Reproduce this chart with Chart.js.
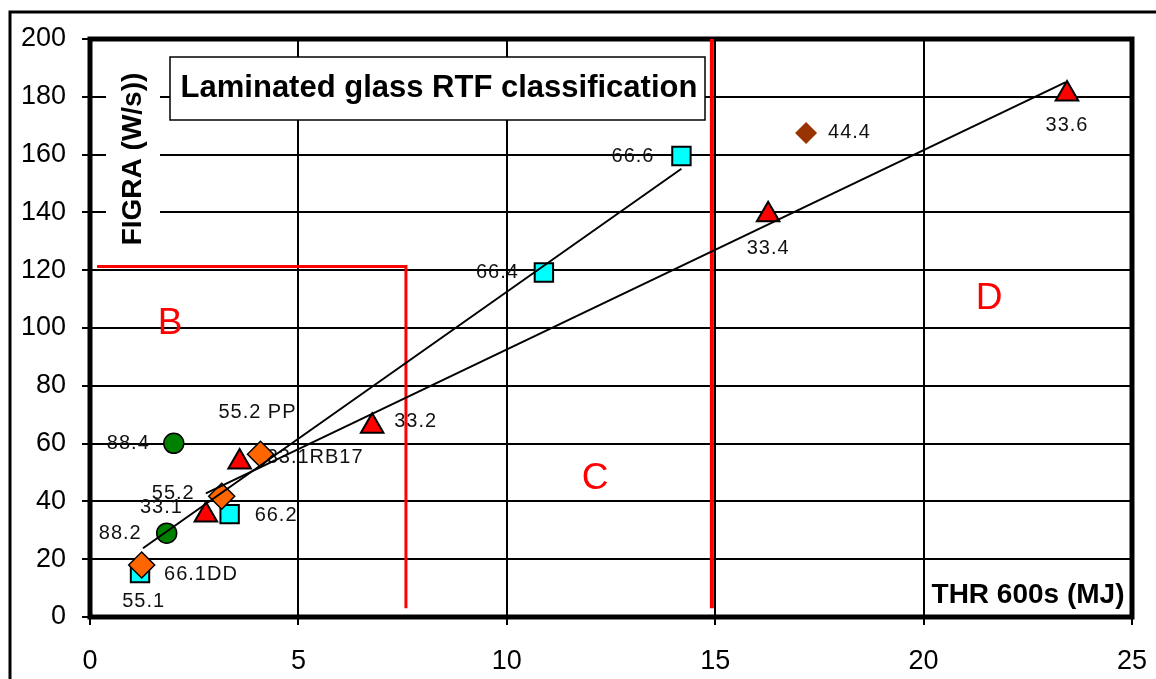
<!DOCTYPE html>
<html>
<head>
<meta charset="utf-8">
<script src="https://cdn.jsdelivr.net/npm/chart.js@4.4.0/dist/chart.umd.min.js"></script>
<style>
  html, body { margin: 0; padding: 0; background: #fff; }
  #wrap { width: 1156px; height: 679px; position: relative; }
</style>
</head>
<body>
<div id="wrap"><canvas id="chart" width="1156" height="679"></canvas></div>
<script>
// THR 600s (MJ) on x, FIGRA (W/s) on y, one array pair per glass family
const sqX = [14.19, 10.89, 3.35, 1.20];
const sqY = [159.5, 119.2, 35.6, 15.2];
const sqLabels = ['66.6', '66.4', '66.2', '66.1DD'];

const triX = [23.44, 16.27, 6.77, 3.59, 2.78];
const triY = [181, 139.2, 66, 53.6, 35.3];
const triLabels = ['33.6', '33.4', '33.2', '33.1RB17', '33.1'];

const diaX = [4.09, 3.16, 1.24];
const diaY = [56.3, 41.8, 18];
const diaLabels = ['55.2 PP', '55.2', '55.1'];

const circX = [2.01, 1.84];
const circY = [60.1, 29];
const circLabels = ['88.4', '88.2'];

const brX = [17.18];
const brY = [167.5];
const brLabels = ['44.4'];

// trend lines (end points)
const trendSqX = [1.27, 14.19];
const trendSqY = [23.8, 155.1];
const trendTriX = [2.78, 23.4];
const trendTriY = [42.8, 185];

// class limits
const limitBX = [0.17, 7.58, 7.58];
const limitBY = [121.3, 121.3, 3];
const limitCX = [14.92, 14.92];
const limitCY = [200, 3];

const classNames = ['B', 'C', 'D'];
const classX = [1.92, 12.12, 21.57];
const classY = [101.6, 47.7, 110.2];

const xTicks = [0, 5, 10, 15, 20, 25];
const yTicks = [0, 20, 40, 60, 80, 100, 120, 140, 160, 180, 200];

const pts = (xs, ys) => xs.map((x, i) => ({ x: x, y: ys[i] }));

// label placement: [align, dx, dy] in px relative to marker
const labelPos = {
  sq: [['right', -27, 0], ['right', -25, 0], ['left', 25, 1], ['left', 24, 1]],
  tri: [['center', 0, 32], ['center', 0, 34], ['left', 22, -5], ['left', 27, -5], ['right', -23, -7]],
  dia: [['center', -3, -42], ['right', -27, -3], ['center', 2, 37]],
  circ: [['right', -24, 0], ['right', -25, 0]],
  br: [['left', 22, 0]]
};

const FONT = 'Arial, "Liberation Sans", sans-serif';

const decorPlugin = {
  id: 'decor',
  beforeDatasetsDraw(chart) {
    const ctx = chart.ctx;
    const a = chart.chartArea;
    const xs = chart.scales.x, ys = chart.scales.y;
    ctx.save();
    // outer frame
    ctx.strokeStyle = '#000';
    ctx.lineWidth = 3;
    ctx.beginPath();
    ctx.moveTo(10, 679);
    ctx.lineTo(10, 12);
    ctx.lineTo(1156, 12);
    ctx.stroke();

    // y title with white backing
    ctx.fillStyle = '#fff';
    ctx.fillRect(106, 46, 54, 212);
    ctx.save();
    ctx.translate(133, 159);
    ctx.rotate(-Math.PI / 2);
    ctx.fillStyle = '#000';
    ctx.font = 'bold 28px ' + FONT;
    ctx.textAlign = 'center';
    ctx.textBaseline = 'middle';
    ctx.fillText('FIGRA (W/s))', 0, 0);
    ctx.restore();

    // x title with white backing
    ctx.fillStyle = '#fff';
    ctx.fillRect(926, 577, a.right - 928, a.bottom - 579);
    ctx.fillStyle = '#000';
    ctx.font = 'bold 28px ' + FONT;
    ctx.textAlign = 'center';
    ctx.textBaseline = 'middle';
    ctx.fillText('THR 600s (MJ)', 1028, 595);

    // title box
    ctx.fillStyle = '#fff';
    ctx.fillRect(170, 57, 535, 63);
    ctx.lineWidth = 1.5;
    ctx.strokeRect(170, 57, 535, 63);
    ctx.fillStyle = '#000';
    ctx.font = 'bold 31px ' + FONT;
    ctx.fillText('Laminated glass RTF classification', 439, 88);

    // class letters
    ctx.fillStyle = '#ff0000';
    ctx.font = '37px ' + FONT;
    classNames.forEach((n, i) => {
      ctx.fillText(n, xs.getPixelForValue(classX[i]), ys.getPixelForValue(classY[i]));
    });

    // point labels
    ctx.fillStyle = '#111';
    ctx.font = '20px ' + FONT;
    ctx.letterSpacing = '1px';
    chart.data.datasets.forEach((ds, di) => {
      if (!ds.pointLabels) return;
      const meta = chart.getDatasetMeta(di);
      ds.pointLabels.forEach((t, i) => {
        const el = meta.data[i];
        const p = labelPos[ds.labelKey][i];
        ctx.textAlign = p[0];
        ctx.fillText(t, el.x + p[1], el.y + p[2]);
      });
    });
    ctx.letterSpacing = '0px';

    // plot border
    ctx.strokeStyle = '#000';
    ctx.lineWidth = 5;
    ctx.strokeRect(a.left, a.top, a.right - a.left, a.bottom - a.top);
    ctx.restore();
  }
};

const lineDs = (data, color, width) => ({
  type: 'line', data: data, showLine: true, borderColor: color, borderWidth: width,
  pointRadius: 0, fill: false, tension: 0
});

// first dataset is painted last (on top)
new Chart(document.getElementById('chart'), {
  type: 'scatter',
  data: {
    datasets: [
      lineDs(pts(trendSqX, trendSqY), '#000', 2),
      lineDs(pts(trendTriX, trendTriY), '#000', 2),
      { data: pts(diaX, diaY), pointStyle: 'rectRot', pointRadius: 13, backgroundColor: '#ff6600',
        borderColor: '#000', borderWidth: 1.5, pointLabels: diaLabels, labelKey: 'dia' },
      { data: pts(sqX, sqY), pointStyle: 'rect', pointRadius: 13, backgroundColor: '#00ffff',
        borderColor: '#000', borderWidth: 2, pointLabels: sqLabels, labelKey: 'sq' },
      { data: pts(triX, triY), pointStyle: 'triangle', pointRadius: 13, backgroundColor: '#ff0000',
        borderColor: '#000', borderWidth: 2, pointLabels: triLabels, labelKey: 'tri' },
      { data: pts(circX, circY), pointStyle: 'circle', pointRadius: 10, backgroundColor: '#008000',
        borderColor: '#000', borderWidth: 1.5, pointLabels: circLabels, labelKey: 'circ' },
      { data: pts(brX, brY), pointStyle: 'rectRot', pointRadius: 11, backgroundColor: '#993300',
        borderColor: '#993300', borderWidth: 0, pointLabels: brLabels, labelKey: 'br' },
      lineDs(pts(limitBX, limitBY), '#ff0000', 3),
      lineDs(pts(limitCX, limitCY), '#ff0000', 4)
    ]
  },
  options: {
    responsive: false,
    animation: false,
    layout: { padding: { top: 39, right: 24, left: 0, bottom: 0 } },
    plugins: { legend: { display: false }, tooltip: { enabled: false } },
    scales: {
      x: {
        type: 'linear', min: 0, max: 25,
        afterBuildTicks: s => { s.ticks = xTicks.map(v => ({ value: v })); },
        afterFit: s => { s.height = 62; s.paddingLeft = 0; s.paddingRight = 0; },
        border: { display: false },
        grid: { color: '#000', lineWidth: 2, tickLength: 8, tickColor: '#000' },
        ticks: { color: '#000', padding: 20, font: { family: FONT, size: 27 } }
      },
      y: {
        type: 'linear', min: 0, max: 200,
        afterBuildTicks: s => { s.ticks = yTicks.map(v => ({ value: v })); },
        afterFit: s => { s.width = 90; s.paddingTop = 0; s.paddingBottom = 0; },
        border: { display: false },
        grid: { color: '#000', lineWidth: 2, tickLength: 8, tickColor: '#000' },
        ticks: { color: '#000', padding: 16, font: { family: FONT, size: 27 } }
      }
    }
  },
  plugins: [decorPlugin]
});
</script>
</body>
</html>
